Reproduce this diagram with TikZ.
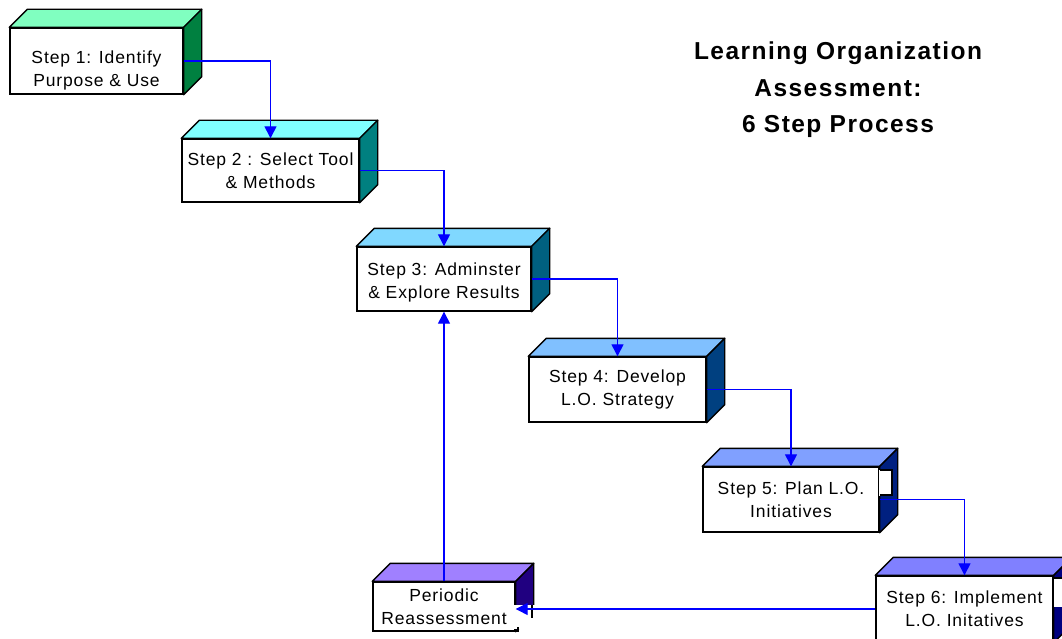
\documentclass[tikz,border=0pt]{standalone}
\usepackage{fontspec}
\setmainfont{Liberation Sans}
\newfontfamily\boxfont[LetterSpace=5]{Liberation Sans}
\newfontfamily\headfont[LetterSpace=6]{Liberation Sans}
\usetikzlibrary{arrows.meta}

% block colours: top face / side face
\definecolor{topA}{RGB}{128,255,192}\definecolor{sideA}{RGB}{0,128,64}
\definecolor{topB}{RGB}{128,255,255}\definecolor{sideB}{RGB}{0,128,128}
\definecolor{topC}{RGB}{128,216,255}\definecolor{sideC}{RGB}{0,96,128}
\definecolor{topD}{RGB}{128,192,255}\definecolor{sideD}{RGB}{0,64,128}
\definecolor{topE}{RGB}{128,160,255}\definecolor{sideE}{RGB}{0,32,128}
\definecolor{topF}{RGB}{128,128,255}\definecolor{sideF}{RGB}{0,0,128}
\definecolor{topG}{RGB}{160,128,255}\definecolor{sideG}{RGB}{32,0,128}
\definecolor{flowblue}{RGB}{0,0,255}

\tikzset{
  blockface/.style={draw=black, line width=1.4pt, fill=white, inner sep=0pt,
    align=center, font=\boxfont\fontsize{17.5}{23}\selectfont},
  faceedge/.style={draw=black, line width=1.4pt, line join=round},
  flow/.style={draw=flowblue, line width=1.3pt,
    -{Triangle[width=12pt,length=12pt]}},
}

\begin{document}
\begin{tikzpicture}[x=1pt, y=-1pt]
\useasboundingbox (0,0) rectangle (1062,639);
\clip (0,0) rectangle (1062,639);

% front faces of the blocks
\node[blockface, minimum width=173pt, minimum height=66pt] (s1) at (96.5,61)
  {\rule{0pt}{31pt}Step 1: Identify\\Purpose \& Use};
\node[blockface, minimum width=177pt, minimum height=63pt] (s2) at (270.5,170.5)
  {Step 2 : Select Tool\\\& Methods};
\node[blockface, minimum width=174pt, minimum height=64pt] (s3) at (444,279)
  {\rule{0pt}{19pt}Step 3: Adminster\\\& Explore Results};
\node[blockface, minimum width=177pt, minimum height=65pt] (s4) at (617.5,389.5)
  {Step 4: Develop\\L.O. Strategy};
\node[blockface, minimum width=176pt, minimum height=65pt] (s5) at (791,499.5)
  {Step 5: Plan L.O.\\Initiatives};
\node[blockface, minimum width=177pt, minimum height=66pt] (s6) at (964.5,609)
  {Step 6:  Implement\\L.O. Initatives};
\node[blockface, minimum width=142pt, minimum height=49pt] (pr) at (444,606.5)
  {Periodic\\Reassessment};

% top and side faces giving each block its depth
\foreach \n/\t/\s in {s1/topA/sideA, s2/topB/sideB, s3/topC/sideC,
                      s4/topD/sideD, s5/topE/sideE, s6/topF/sideF, pr/topG/sideG}{
  \filldraw[faceedge, fill=\t] (\n.north west) -- ++(18,-18)
    -- ([shift={(18,-18)}]\n.north east) -- (\n.north east) -- cycle;
  \filldraw[faceedge, fill=\s] (\n.north east) -- ++(18,-18)
    -- ([shift={(18,-18)}]\n.south east) -- (\n.south east) -- cycle;
}

% light notches in the side faces
\filldraw[white] (879.5,470) rectangle (892,495);
\draw[black, line width=1.2pt] (879.5,470) -- (892,470) -- (892,495) -- (879.5,495);
\filldraw[white] (1054,578) rectangle (1062,606);
\draw[black, line width=1.2pt] (1054,578) -- (1062,578);
\filldraw[white] (514.6,605) rectangle (536,628);
\draw[black, line width=1.4pt] (532,605) -- (532,618);
\draw[black, line width=1.4pt] (514,631.2) -- (518,631.2) -- (518,627);

% process flow
\draw[flow] (s1.east) -| (s2.north);
\draw[flow] (s2.east) -| (s3.north);
\draw[flow] (s3.east) -| (s4.north);
\draw[flow] (s4.east) -| (s5.north);
\draw[flow] (s5.east) -| (s6.north);
\draw[flow] (s6.west) -- (pr.east |- s6.west);
\draw[flow] (pr.north) -- (s3.south);

% heading
\node[align=center, font=\headfont\bfseries\fontsize{24.5}{36.5}\selectfont] (title)
  at (838,90) {Learning Organization\\Assessment:\\6 Step Process};
\end{tikzpicture}
\end{document}
